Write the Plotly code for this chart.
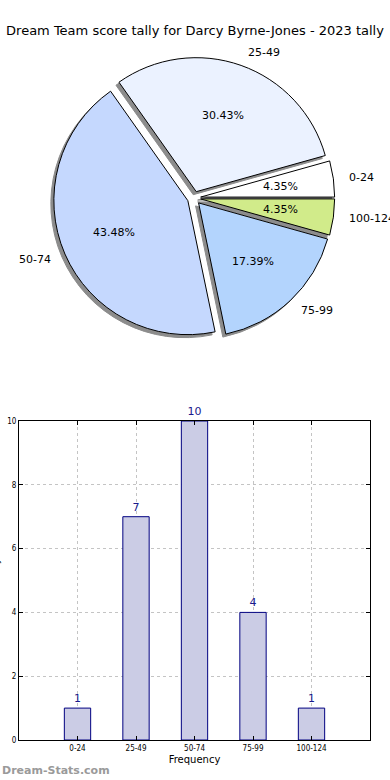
import numpy as np
import plotly.graph_objects as go

# ---- data ----
categories = ["0-24", "25-49", "50-74", "75-99", "100-124"]
counts = [1, 7, 10, 4, 1]
pie_colors = ["#ffffff", "#ebf2ff", "#c5d8fe", "#b3d4fd", "#d1eb8a"]
title_text = "Dream Team score tally for Darcy Byrne-Jones - 2023 tally"
x_title = "Frequency"
y_title = "Score tally"
watermark = "Dream-Stats.com"

W, H = 390, 780
FONT = "DejaVu Sans"

# pie geometry (pixels)
cx_px, cy_px = 194, 198
r_px = 134
pull = 0.05
half = r_px * (1 + pull)
dom_x = [(cx_px - half) / W, (cx_px + half) / W]
dom_y = [(H - cy_px - half) / H, (H - cy_px + half) / H]
sh_dx, sh_dy = -3, 3  # shadow offset px (left, down)

vals = np.array(counts, dtype=float)
fr = vals / vals.sum()
# plotly counterclockwise pies place the first slice ending at the rotation angle
rot = 90 - fr[0] * 360

fig = go.Figure()

# shadow pie
fig.add_trace(go.Pie(
    labels=categories, values=counts, sort=False, direction="counterclockwise",
    rotation=rot, pull=[pull] * len(counts),
    marker=dict(colors=["#8c8c8c"] * len(counts), line=dict(color="#8c8c8c", width=1)),
    textinfo="none", hoverinfo="skip", showlegend=False,
    domain=dict(x=[dom_x[0] + sh_dx / W, dom_x[1] + sh_dx / W],
                y=[dom_y[0] - sh_dy / H, dom_y[1] - sh_dy / H]),
))
# main pie
fig.add_trace(go.Pie(
    labels=categories, values=counts, sort=False, direction="counterclockwise",
    rotation=rot, pull=[pull] * len(counts),
    marker=dict(colors=pie_colors, line=dict(color="#000000", width=1)),
    textinfo="none", showlegend=False,
    domain=dict(x=dom_x, y=dom_y),
))

# pie texts computed from values
ends = np.cumsum(fr) * 360
starts = ends - fr * 360
mids = np.deg2rad((starts + ends) / 2)
pull_px = pull * r_px
for lab, f, a in zip(categories, fr, mids):
    rp = 0.6 * r_px + pull_px
    fig.add_annotation(
        x=(cx_px + rp * np.cos(a)) / W, y=(H - cy_px + rp * np.sin(a)) / H,
        xref="paper", yref="paper", text=f"{f*100:.2f}%", showarrow=False,
        font=dict(family=FONT, size=11, color="#000"), xanchor="center", yanchor="middle")
    rl = 1.1 * r_px + pull_px
    fig.add_annotation(
        x=(cx_px + rl * np.cos(a)) / W, y=(H - cy_px + rl * np.sin(a)) / H,
        xref="paper", yref="paper", text=lab, showarrow=False,
        font=dict(family=FONT, size=11, color="#000"),
        xanchor="left" if np.cos(a) > 0 else "right", yanchor="middle")

# bar chart
fig.add_trace(go.Bar(
    x=categories, y=counts, text=[str(c) for c in counts], textposition="outside",
    textfont=dict(family=FONT, size=11, color="#1a1a8c"), cliponaxis=False,
    constraintext="none", width=0.45,
    marker=dict(color="#cbcce5", line=dict(color="#000080", width=1)),
    showlegend=False, xaxis="x", yaxis="y",
))

grid = dict(showgrid=True, gridcolor="#c4c4c4", griddash="dot", gridwidth=1)
fig.update_layout(
    width=W, height=H, margin=dict(l=0, r=0, t=0, b=0, autoexpand=False),
    paper_bgcolor="white", plot_bgcolor="white",
    font=dict(family=FONT, color="#000"),
    title=dict(text=title_text, x=0.5, xanchor="center", y=1 - 30 / H, yanchor="middle",
               font=dict(family=FONT, size=13, color="#000")),
    xaxis=dict(domain=[19 / W, 370 / W], type="category", range=[-1, 5], automargin=False,
               showline=True, linecolor="#000", linewidth=1, mirror="ticks",
               ticks="inside", ticklen=4, tickcolor="#000",
               tickfont=dict(family="DejaVu Sans Condensed", size=8, color="#000"),
               title=dict(text=x_title, font=dict(family=FONT, size=10), standoff=4),
               zeroline=False, anchor="y", **grid),
    yaxis=dict(domain=[40 / H, 359 / H], range=[0, 10], dtick=2, automargin=False,
               showline=True, linecolor="#000", linewidth=1, mirror="ticks",
               ticks="inside", ticklen=4, tickcolor="#000",
               tickfont=dict(family="DejaVu Sans Condensed", size=8, color="#000"),
               zeroline=False, anchor="x", **grid),
    bargap=0.55,
)
fig.add_annotation(x=-4 / W, y=(H - 582) / H, xref="paper", yref="paper", text=y_title,
                   textangle=-90, showarrow=False, xanchor="center", yanchor="middle",
                   font=dict(family=FONT, size=9, color="#000"))
fig.add_annotation(x=0, y=(H - 770) / H, xref="paper", yref="paper", text=f"<b>{watermark}</b>",
                   showarrow=False, xanchor="left", yanchor="middle",
                   font=dict(family=FONT, size=11, color="#9a9a9a"))

fig.write_html("out.html", config={"displayModeBar": False},
               post_script="document.body.style.margin='0';document.body.style.padding='0';")
